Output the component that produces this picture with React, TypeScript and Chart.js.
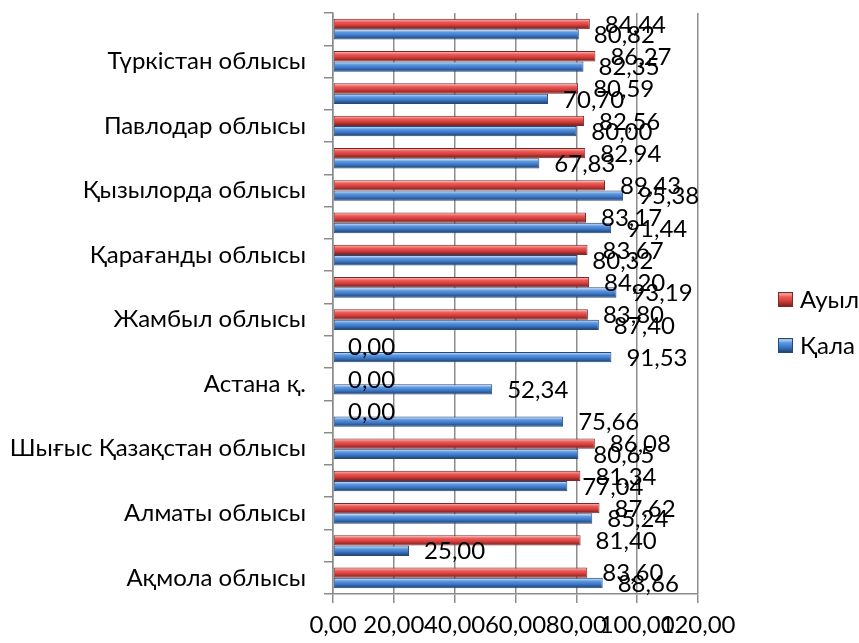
import React, { useEffect, useRef } from "react";
import { Chart, registerables } from "chart.js";

Chart.register(...registerables);

// Categories from bottom to top (as in the reference); only every other label is shown
const categories: string[] = [
  "Ақмола облысы",
  "Ақтөбе облысы",
  "Алматы облысы",
  "Атырау облысы",
  "Шығыс Қазақстан облысы",
  "Алматы қ.",
  "Астана қ.",
  "Шымкент қ.",
  "Жамбыл облысы",
  "Батыс Қазақстан облысы",
  "Қарағанды облысы",
  "Қостанай облысы",
  "Қызылорда облысы",
  "Маңғыстау облысы",
  "Павлодар облысы",
  "Солтүстік Қазақстан облысы",
  "Түркістан облысы",
  "Қазақстан Республикасы",
];

const auylValues: number[] = [
  83.6, 81.4, 87.62, 81.34, 86.08, 0.0, 0.0, 0.0, 83.8, 84.2, 83.67, 83.17, 89.43, 82.94, 82.56, 80.59, 86.27, 84.44,
];

const qalaValues: number[] = [
  88.66, 25.0, 85.24, 77.04, 80.65, 75.66, 52.34, 91.53, 87.4, 93.19, 80.32, 91.44, 95.38, 67.83, 80.0, 70.7, 82.35, 80.82,
];

const seriesNames: string[] = ["Ауыл", "Қала"];
const xTicks = { min: 0, max: 120, step: 20 };

const FONT = 'Lato, "Noto Sans", sans-serif';
const FONT_SIZE = 24;
const CAT_PCT = 0.64;

const redStops: [number, string][] = [
  [0, "#a83a38"],
  [0.12, "#f6a4a2"],
  [0.32, "#ec5b57"],
  [0.58, "#d8403c"],
  [0.8, "#a02d2b"],
  [1, "#6e1f1d"],
];
const blueStops: [number, string][] = [
  [0, "#3a6aa8"],
  [0.12, "#b4d0f2"],
  [0.32, "#5c98e0"],
  [0.58, "#3f7acb"],
  [0.8, "#2c5a96"],
  [1, "#1c3960"],
];

function fmt(v: number): string {
  return v.toFixed(2).replace(".", ",");
}

function barGradient(stops: [number, string][], fallback: string) {
  return (ctx: any) => {
    const chart = ctx.chart;
    const y = chart.scales && chart.scales.y;
    if (!y || ctx.type !== "data" || !chart.chartArea) return fallback;
    const c = y.getPixelForValue(ctx.dataIndex);
    const cat = Math.abs(y.getPixelForValue(1) - y.getPixelForValue(0));
    if (!isFinite(c) || !isFinite(cat) || cat === 0) return fallback;
    const size = cat * CAT_PCT;
    const chunk = size / 2;
    const top = c - size / 2 + chunk * ctx.datasetIndex;
    const g = chart.ctx.createLinearGradient(0, top, 0, top + chunk);
    stops.forEach(([o, col]) => g.addColorStop(o, col));
    return g;
  };
}

const dataLabelPlugin = {
  id: "dataLabels",
  afterDatasetsDraw(chart: any) {
    const ctx = chart.ctx;
    ctx.save();
    ctx.font = `${FONT_SIZE}px ${FONT}`;
    ctx.fillStyle = "#000";
    ctx.textAlign = "left";
    ctx.textBaseline = "middle";
    chart.data.datasets.forEach((ds: any, di: number) => {
      const meta = chart.getDatasetMeta(di);
      meta.data.forEach((el: any, i: number) => {
        const v = ds.data[i];
        ctx.fillText(fmt(v), el.x + 15, el.y + 1);
      });
    });
    ctx.restore();
  },
};

const legendPlugin = {
  id: "customLegend",
  afterDraw(chart: any) {
    const ctx = chart.ctx;
    ctx.save();
    const x = 778;
    const ys = [299, 345];
    const stopsArr = [redStops, blueStops];
    const borders = ["#7a2a28", "#254a7a"];
    chart.data.datasets.forEach((ds: any, i: number) => {
      const yc = ys[i];
      const g = ctx.createLinearGradient(0, yc - 7, 0, yc + 8);
      stopsArr[i].forEach(([o, col]) => g.addColorStop(o, col));
      ctx.fillStyle = g;
      ctx.fillRect(x, yc - 7, 15, 15);
      ctx.strokeStyle = borders[i];
      ctx.lineWidth = 1;
      ctx.strokeRect(x + 0.5, yc - 6.5, 14, 14);
      ctx.font = `${FONT_SIZE}px ${FONT}`;
      ctx.fillStyle = "#000";
      ctx.textAlign = "left";
      ctx.textBaseline = "middle";
      ctx.fillText(ds.label, x + 22, yc + 1);
    });
    ctx.restore();
  },
};

export default function App() {
  const ref = useRef<HTMLCanvasElement | null>(null);

  useEffect(() => {
    if (!ref.current) return;
    const chart = new Chart(ref.current, {
      type: "bar",
      data: {
        labels: categories,
        datasets: [
          {
            label: seriesNames[0],
            data: auylValues,
            backgroundColor: barGradient(redStops, "#d8403c"),
            borderColor: "#7a2a28",
            borderWidth: 1,
            borderSkipped: false,
            categoryPercentage: CAT_PCT,
            barPercentage: 1,
          },
          {
            label: seriesNames[1],
            data: qalaValues,
            backgroundColor: barGradient(blueStops, "#3f7acb"),
            borderColor: "#254a7a",
            borderWidth: 1,
            borderSkipped: false,
            categoryPercentage: CAT_PCT,
            barPercentage: 1,
          },
        ],
      },
      options: {
        indexAxis: "y",
        responsive: false,
        animation: false,
        layout: { padding: { left: 0, top: 13, right: 161, bottom: 0 } },
        plugins: {
          legend: { display: false },
          tooltip: { enabled: false },
        },
        scales: {
          x: {
            min: xTicks.min,
            max: xTicks.max,
            ticks: {
              stepSize: xTicks.step,
              color: "#000",
              font: { family: FONT, size: FONT_SIZE },
              padding: 8,
              maxRotation: 0,
              autoSkip: false,
              callback: (v: any) => fmt(Number(v)),
            },
            grid: { color: "#8c8c8c", lineWidth: 1.5, tickLength: 9 },
            border: { color: "#8c8c8c", width: 1.5 },
            afterFit: (s: any) => {
              s.height = 49;
              s.paddingLeft = 0;
              s.paddingRight = 0;
            },
          },
          y: {
            reverse: true,
            ticks: {
              color: "#000",
              font: { family: FONT, size: FONT_SIZE },
              padding: 18,
              autoSkip: false,
              callback: function (this: any, _v: any, i: number) {
                return i % 2 === 0 ? categories[i] : "";
              },
            },
            grid: { color: "#8c8c8c", lineWidth: 1.5, tickLength: 9, drawOnChartArea: false, offset: true },
            border: { color: "#8c8c8c", width: 1.5 },
            afterFit: (s: any) => {
              s.width = 333;
              s.paddingTop = 0;
              s.paddingBottom = 0;
            },
          },
        },
      },
      plugins: [dataLabelPlugin, legendPlugin],
    });
    return () => chart.destroy();
  }, []);

  return (
    <div style={{ position: "fixed", left: 0, top: 0, width: 859, height: 643, background: "#fff" }}>
      <canvas ref={ref} width={859} height={643} />
    </div>
  );
}
